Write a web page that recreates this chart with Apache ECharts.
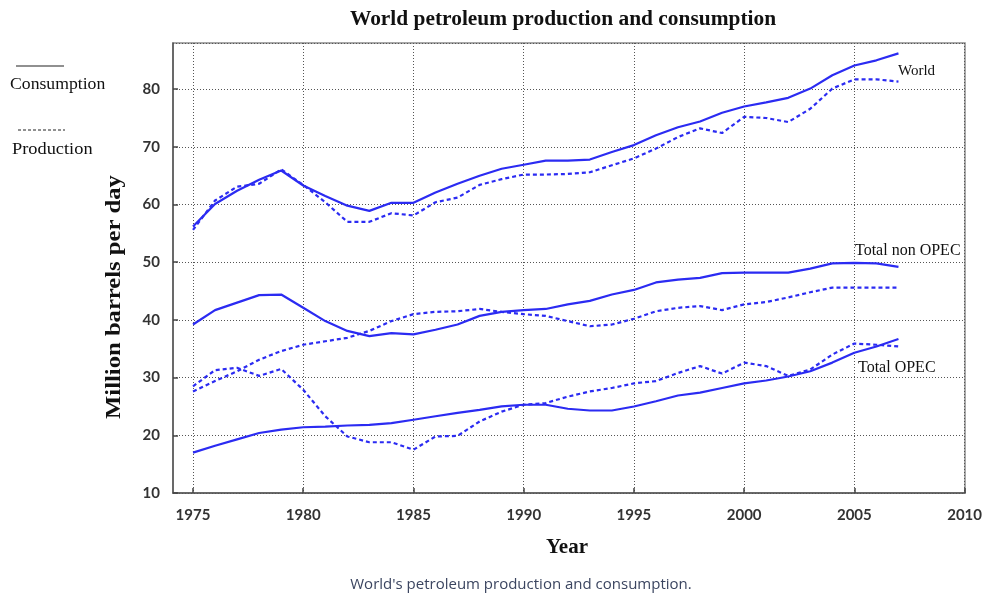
<!DOCTYPE html>
<html>
<head>
<meta charset="utf-8">
<script src="https://cdn.jsdelivr.net/npm/echarts@6/dist/echarts.min.js"></script>
<style>html,body{margin:0;padding:0;background:#fff;}#c{width:985px;height:596px;}</style>
</head>
<body>
<div id="c"></div>
<script>
var years = [1975,1976,1977,1978,1979,1980,1981,1982,1983,1984,1985,1986,1987,1988,1989,1990,1991,1992,1993,1994,1995,1996,1997,1998,1999,2000,2001,2002,2003,2004,2005,2006,2007];
var worldConsumption = [56.2,60.1,62.4,64.3,65.9,63.3,61.5,59.8,58.9,60.3,60.3,62.1,63.6,65.0,66.2,66.9,67.6,67.6,67.8,69.1,70.3,72.0,73.4,74.4,75.9,77.0,77.7,78.5,80.1,82.4,84.1,85.0,86.2];
var worldProduction = [55.6,60.7,63.1,63.6,66.1,63.4,60.4,57.0,57.0,58.5,58.1,60.4,61.2,63.4,64.4,65.2,65.2,65.3,65.6,66.8,68.0,69.7,71.7,73.2,72.4,75.2,75.0,74.3,76.6,80.1,81.7,81.7,81.3];
var nonOpecConsumption = [39.2,41.7,43.0,44.3,44.4,42.1,39.8,38.1,37.2,37.7,37.5,38.3,39.2,40.7,41.4,41.7,41.9,42.7,43.3,44.4,45.2,46.5,47.0,47.3,48.1,48.2,48.2,48.2,48.9,49.8,49.9,49.8,49.2];
var nonOpecProduction = [27.6,29.4,31.1,33.1,34.6,35.7,36.3,36.9,38.1,39.8,41.0,41.4,41.5,41.9,41.4,41.0,40.7,39.8,38.9,39.2,40.2,41.5,42.1,42.4,41.7,42.7,43.1,43.9,44.8,45.6,45.6,45.6,45.6];
var opecConsumption = [17.0,18.2,19.3,20.4,21.0,21.4,21.5,21.7,21.8,22.1,22.7,23.3,23.9,24.4,25.0,25.3,25.3,24.6,24.3,24.3,25.0,25.9,26.9,27.4,28.2,29.0,29.5,30.2,31.1,32.6,34.3,35.4,36.7];
var opecProduction = [28.5,31.3,31.7,30.3,31.5,27.9,23.3,19.8,18.8,18.8,17.5,19.8,19.9,22.4,24.1,25.3,25.6,26.7,27.6,28.2,29.0,29.4,30.8,32.0,30.7,32.6,32.0,30.3,31.4,34.0,35.9,35.7,35.4];

var titleText = 'World petroleum production and consumption';
var xName = 'Year';
var yName = 'Million barrels per day';
var caption = "World's petroleum production and consumption.";
var legendNames = ['Consumption','Production'];
var seriesLabels = ['World','Total non OPEC','Total OPEC'];

function pairs(v){ return years.map(function(y,i){ return [y, v[i]]; }); }

var blue = '#2b2bf2';
var serif = '"Liberation Serif","DejaVu Serif",serif';
var tickFont = 'Lato,"Open Sans",sans-serif';
function mk(name, v, dashed){
  return {
    name: name, type: 'line', xAxisIndex: 1, yAxisIndex: 1,
    data: pairs(v), symbol: 'none', silent: true,
    lineStyle: { color: blue, width: 2.2, type: dashed ? [4,3] : 'solid' },
    itemStyle: { color: blue }
  };
}

var chart = echarts.init(document.getElementById('c'), null, {renderer:'canvas'});
var option = {
  backgroundColor: '#ffffff',
  animation: false,
  grid: [
    { left: 173, right: 20, top: 43, bottom: 103, show: true, borderColor: '#8a8a8a', borderWidth: 1.5, backgroundColor: 'transparent' },
    { left: 193, right: 20, top: 43, bottom: 103 }
  ],
  xAxis: [
    { gridIndex: 0, type: 'value', min: 0, max: 1,
      axisLine: { show: true, lineStyle: { color: '#555', width: 1.5 } },
      axisTick: { show: false }, axisLabel: { show: false }, splitLine: { show: false } },
    { gridIndex: 1, type: 'value', min: 1975, max: 2010, interval: 5,
      axisLine: { show: false },
      axisTick: { show: true, inside: true, length: 5, lineStyle: { color: '#444', width: 1.5 } },
      axisLabel: { fontFamily: tickFont, fontWeight: 'bold', fontSize: 15, color: '#333', margin: 15, formatter: function(v){ return String(v); } },
      splitLine: { show: true, lineStyle: { color: '#555', width: 1, type: [1,2] } } }
  ],
  yAxis: [
    { gridIndex: 0, type: 'value', min: 10, max: 88, interval: 10,
      axisLine: { show: true, lineStyle: { color: '#555', width: 1.5 } },
      axisTick: { show: true, inside: true, length: 5, lineStyle: { color: '#444', width: 1.5 } },
      axisLabel: { fontFamily: tickFont, fontWeight: 'bold', fontSize: 15, color: '#333', margin: 13, showMaxLabel: false },
      splitLine: { show: true, lineStyle: { color: '#555', width: 1, type: [1,2] } } },
    { gridIndex: 1, type: 'value', min: 10, max: 88, show: false, splitLine: { show: false } }
  ],
  series: [
    mk('World consumption', worldConsumption, false),
    mk('World production', worldProduction, true),
    mk('Non OPEC consumption', nonOpecConsumption, false),
    mk('Non OPEC production', nonOpecProduction, true),
    mk('OPEC consumption', opecConsumption, false),
    mk('OPEC production', opecProduction, true)
  ],
  graphic: [
    { type: 'text', x: 563, y: 20, scaleX: 1.07, style: { text: titleText, font: 'bold 20px ' + serif, fill: '#111', align: 'center', verticalAlign: 'middle' } },
    { type: 'line', shape: { x1: 16, y1: 66, x2: 64, y2: 66 }, style: { stroke: '#222', lineWidth: 1.2 } },
    { type: 'text', x: 10, y: 85, scaleX: 1.04, style: { text: legendNames[0], font: '17px ' + serif, fill: '#111', align: 'left', verticalAlign: 'middle' } },
    { type: 'line', shape: { x1: 18, y1: 130, x2: 65, y2: 130 }, style: { stroke: '#222', lineWidth: 1.2, lineDash: [3,2] } },
    { type: 'text', x: 12, y: 150, scaleX: 1.08, style: { text: legendNames[1], font: '17px ' + serif, fill: '#111', align: 'left', verticalAlign: 'middle' } },
    { type: 'text', x: 898, y: 71, style: { text: seriesLabels[0], font: '15px ' + serif, fill: '#111', align: 'left', verticalAlign: 'middle' } },
    { type: 'text', x: 855, y: 251, style: { text: seriesLabels[1], font: '16px ' + serif, fill: '#111', align: 'left', verticalAlign: 'middle' } },
    { type: 'text', x: 858, y: 368, style: { text: seriesLabels[2], font: '16px ' + serif, fill: '#111', align: 'left', verticalAlign: 'middle' } },
    { type: 'text', x: 114, y: 297, rotation: Math.PI/2, scaleX: 1.12, style: { text: yName, font: 'bold 22px ' + serif, fill: '#111', align: 'center', verticalAlign: 'middle' } },
    { type: 'text', x: 567, y: 548, style: { text: xName, font: 'bold 21px ' + serif, fill: '#111', align: 'center', verticalAlign: 'middle' } },
    { type: 'text', x: 521, y: 585, style: { text: caption, font: '15px "Open Sans","Liberation Sans",sans-serif', fill: '#3b4560', align: 'center', verticalAlign: 'middle' } }
  ]
};
chart.setOption(option);
</script>
</body>
</html>
